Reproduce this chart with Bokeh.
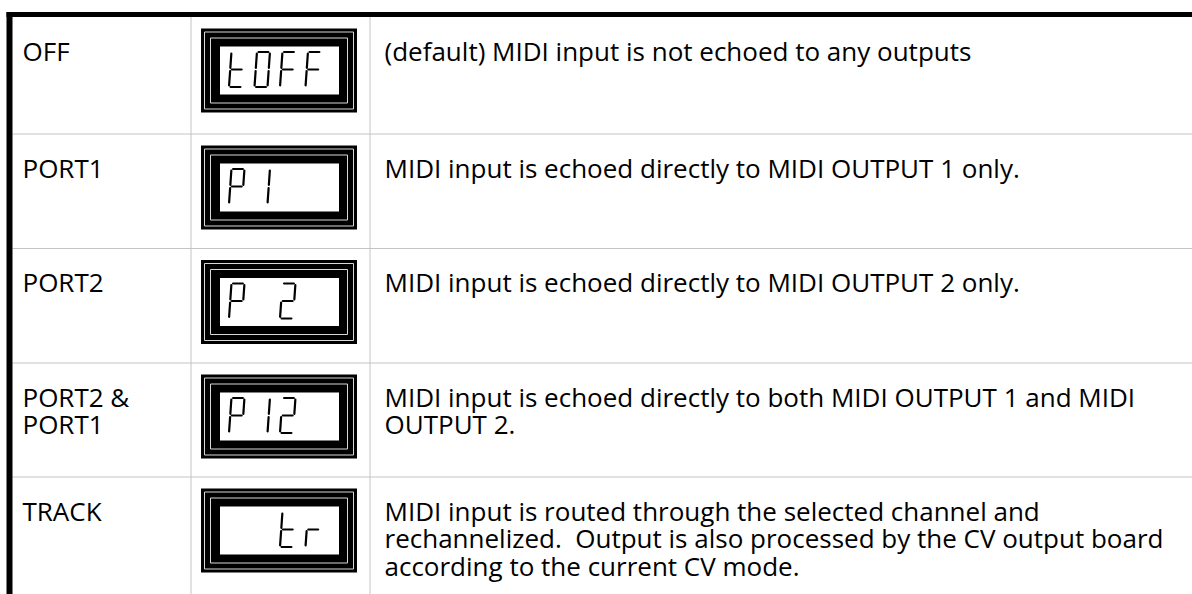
from bokeh.plotting import figure
from bokeh.models import Range1d
from bokeh.core.properties import value
from bokeh.embed import file_html
from bokeh.resources import INLINE

# ---------------- data ----------------
mode_labels = [["OFF"], ["PORT1"], ["PORT2"], ["PORT2 &", "PORT1"], ["TRACK"]]
lcd_codes = ["tOFF", "P1  ", "P 2 ", "P12 ", "  tr"]
descriptions = [
    ["(default) MIDI input is not echoed to any outputs"],
    ["MIDI input is echoed directly to MIDI OUTPUT 1 only."],
    ["MIDI input is echoed directly to MIDI OUTPUT 2 only."],
    ["MIDI input is echoed directly to both MIDI OUTPUT 1 and MIDI", "OUTPUT 2."],
    ["MIDI input is routed through the selected channel and",
     "rechannelized.\u00a0 Output is also processed by the CV output board",
     "according to the current CV mode."],
]

# ---------------- layout (page pixel coordinates) ----------------
W, H = 1192, 594
row_edges = [16, 133, 247.5, 362, 476, 594]
col_lines = [190.5, 369.5]
FONT = value("Open Sans")
FS = "26px"
LINE_H = 27.5

p = figure(width=W, height=H, output_backend="svg", toolbar_location=None,
           x_range=Range1d(0, W), y_range=Range1d(H, 0),
           x_axis_type=None, y_axis_type=None, min_border=0)
p.grid.visible = False
p.outline_line_color = None
p.background_fill_color = "white"
p.border_fill_color = "white"

# grid lines
gx0, gx1, gy0, gy1 = [], [], [], []
for x in col_lines:
    gx0.append(x); gx1.append(x); gy0.append(row_edges[0]); gy1.append(row_edges[-1])
for y in row_edges[1:-1]:
    gx0.append(12); gx1.append(1200); gy0.append(y + 0.5); gy1.append(y + 0.5)
p.segment(gx0, gy0, gx1, gy1, line_color="#c4c4c4", line_width=1)

# heavy borders
p.quad(left=[6, 6], right=[1200, 12], top=[11.5, 11.5], bottom=[16.5, 600],
       fill_color="black", line_color=None)

# seven-segment geometry
SEG = {
    "a": ((0, 0), (1, 0)), "b": ((1, 0), (1, .5)), "c": ((1, .5), (1, 1)),
    "d": ((0, 1), (1, 1)), "e": ((0, .5), (0, 1)), "f": ((0, 0), (0, .5)),
    "g": ((0, .5), (1, .5)),
}
CHARS = {"t": "defg", "O": "abcdef", "F": "aefg", "P": "abefg",
         "1": "bc", "2": "abged", "r": "eg", " ": ""}

seg_xs, seg_ys = [], []
for i, code in enumerate(lcd_codes):
    top = row_edges[i] + 12
    left = 200.5
    ow, oh = 156, 84
    p.quad(left=[left], right=[left + ow], top=[top], bottom=[top + oh],
           fill_color="black", line_color=None)
    for ins in (3.5, 9.5):
        p.quad(left=[left + ins], right=[left + ow - ins], top=[top + ins],
               bottom=[top + oh - ins], fill_alpha=0, line_color="#d8d8d8",
               line_width=1)
    p.quad(left=[left + 19], right=[left + ow - 18], top=[top + 18],
           bottom=[top + oh - 18], fill_color="white", line_color=None)
    dw, dh, pitch, slant, gap = 13, 35, 25.5, 0.07, 1.6
    for k, ch in enumerate(code):
        x0 = left + 28 + k * pitch
        y0 = top + 23.5
        for s in CHARS.get(ch, ""):
            (u0, v0), (u1, v1) = SEG[s]
            X0, Y0 = x0 + u0 * dw, y0 + v0 * dh
            X1, Y1 = x0 + u1 * dw, y0 + v1 * dh
            L = ((X1 - X0) ** 2 + (Y1 - Y0) ** 2) ** 0.5
            dx, dy = (X1 - X0) / L * gap, (Y1 - Y0) / L * gap
            X0, Y0, X1, Y1 = X0 + dx, Y0 + dy, X1 - dx, Y1 - dy
            X0 += slant * (y0 + dh - Y0)
            X1 += slant * (y0 + dh - Y1)
            seg_xs.append([X0, X1]); seg_ys.append([Y0, Y1])
p.multi_line(seg_xs, seg_ys, line_color="black", line_width=2.2, line_cap="round")

# texts
tx, ty, tt = [], [], []
for i in range(len(mode_labels)):
    base = row_edges[i] + 34
    for j, s in enumerate(mode_labels[i]):
        tx.append(22); ty.append(base + j * LINE_H); tt.append(s)
    for j, s in enumerate(descriptions[i]):
        tx.append(384); ty.append(base + j * LINE_H); tt.append(s)
p.text(tx, ty, text=tt, text_font=FONT, text_font_size=FS,
       text_baseline="alphabetic", text_align="left", text_color="black")

open("out.html", "w").write(file_html(p, INLINE))
